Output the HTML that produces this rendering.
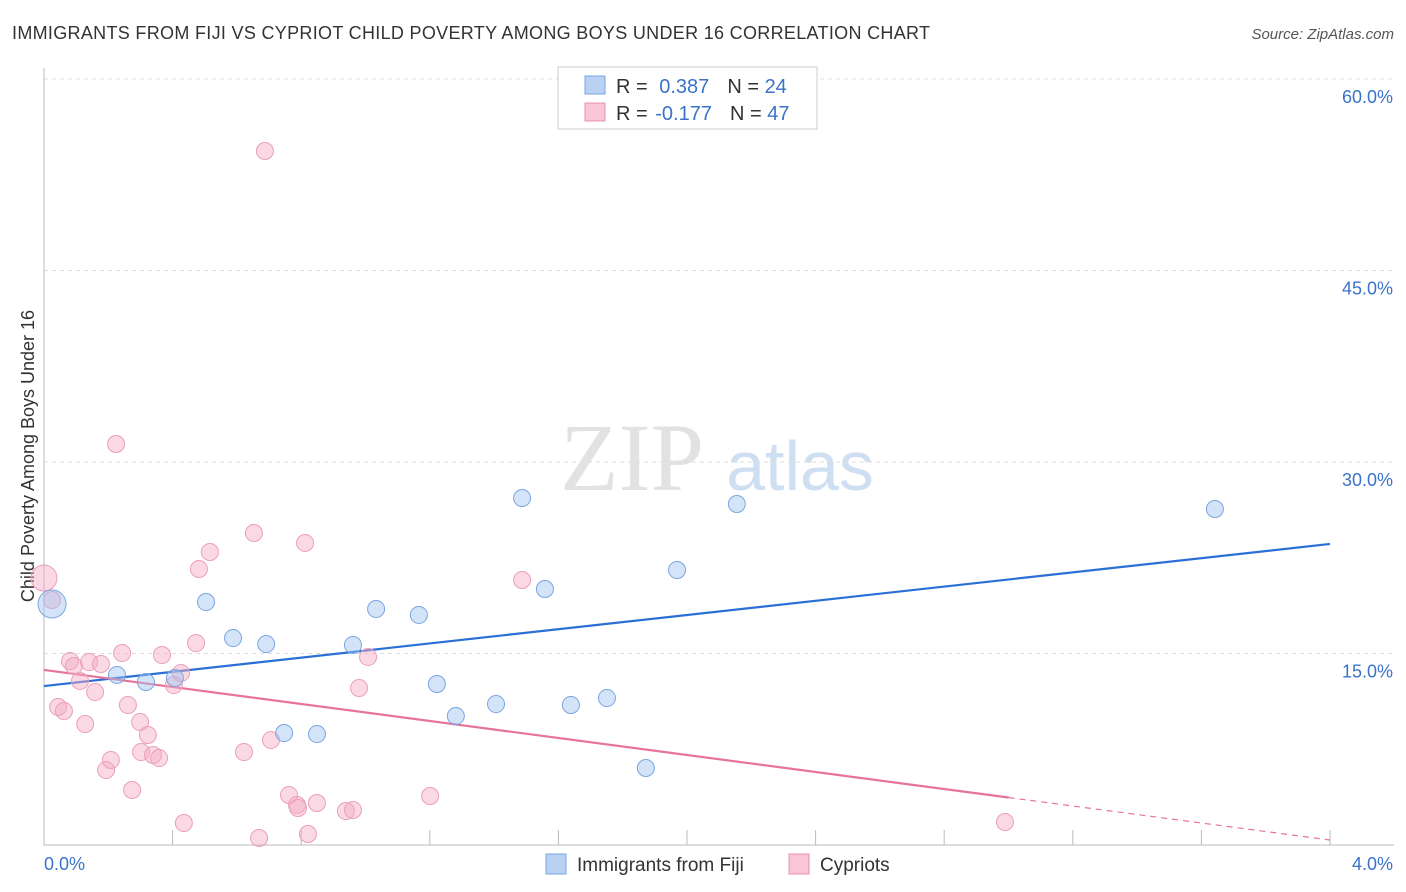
<!DOCTYPE html>
<html><head><meta charset="utf-8"><style>
body{margin:0;background:#fff;font-family:"Liberation Sans",sans-serif}
svg{display:block}
</style></head><body>
<svg id="chart" width="1406" height="892">
<text x="12" y="39" font-size="18" fill="#333" textLength="918">IMMIGRANTS FROM FIJI VS CYPRIOT CHILD POVERTY AMONG BOYS UNDER 16 CORRELATION CHART</text>
<text x="1394" y="39" font-size="15" fill="#555" font-style="italic" text-anchor="end">Source: ZipAtlas.com</text>
<text x="632" y="490" font-size="96" fill="#e2e2e2" font-family="Liberation Serif,serif" text-anchor="middle">ZIP</text>
<text x="800" y="490" font-size="70" fill="#cfdff2" text-anchor="middle">atlas</text>
<text transform="translate(34,456) rotate(-90)" font-size="18" fill="#333" text-anchor="middle">Child Poverty Among Boys Under 16</text>
<g id="grid"></g><g id="axes"></g><g id="lines"></g><g id="pts"></g>
<g>
<rect x="558" y="67" width="259" height="62" fill="#fff" stroke="#ccc"/>
<rect x="585" y="76" width="20" height="18" fill="#b9d2f4" stroke="#7aa5e0"/>
<rect x="585" y="103" width="20" height="18" fill="#f9c6d6" stroke="#e890ad"/>
<text x="616" y="93" font-size="20" fill="#333">R = <tspan fill="#3b73c9" dx="6">0.387</tspan><tspan dx="18" fill="#333">N = </tspan><tspan fill="#3b73c9">24</tspan></text>
<text x="616" y="120" font-size="20" fill="#333">R = <tspan fill="#3b73c9" dx="2">-0.177</tspan><tspan dx="18" fill="#333">N = </tspan><tspan fill="#3b73c9">47</tspan></text>
</g>
<g>
<rect x="546" y="854" width="20" height="20" fill="#b9d2f4" stroke="#7aa5e0"/>
<text x="577" y="871" font-size="19" fill="#333">Immigrants from Fiji</text>
<rect x="789" y="854" width="20" height="20" fill="#f9c6d6" stroke="#e890ad"/>
<text x="820" y="871" font-size="19" fill="#333">Cypriots</text>
</g>
</svg>
<script>
const fijiX=[0.025,0.227,0.317,0.407,0.504,0.588,0.691,0.747,0.849,0.961,1.033,1.166,1.222,1.281,1.406,1.487,1.558,1.639,1.751,1.872,1.969,2.155,3.642];
const fijiY=[18.88,13.32,12.77,13.08,19.03,16.21,15.74,8.77,8.69,15.67,18.49,18.02,12.61,10.10,11.04,27.18,20.05,10.97,11.51,6.03,21.54,26.71,26.32];
const cypX=[0,0.025,0.044,0.062,0.081,0.093,0.112,0.128,0.140,0.159,0.177,0.193,0.208,0.224,0.243,0.261,0.274,0.299,0.302,0.323,0.339,0.358,0.367,0.404,0.426,0.435,0.473,0.482,0.516,0.622,0.653,0.669,0.687,0.706,0.762,0.787,0.790,0.812,0.821,0.849,0.939,0.961,0.980,1.008,1.201,1.487,2.989];
const cypY=[20.91,19.19,10.81,10.50,14.41,14.02,12.85,9.48,14.33,11.98,14.18,5.87,6.66,31.41,15.04,10.97,4.31,9.63,7.28,8.62,7.05,6.81,14.88,12.53,13.47,1.72,15.82,21.62,22.95,7.28,24.44,0.55,54.36,8.22,3.92,3.13,2.90,23.66,0.86,3.29,2.66,2.74,12.30,14.73,3.84,20.76,1.80];
const fijiTrend=[12.45,23.58];
const cypTrend=[13.71,0.39];
const cypSolidEnd=3.0;
const yTicks=[15,30,45,60];
const xTickLabels=["0.0%","4.0%"];
const NS="http://www.w3.org/2000/svg";
const X=v=>44+v/4*1286, Y=v=>845-v/15*191.5;
function mk(p,t,a){const e=document.createElementNS(NS,t);for(const k in a)e.setAttribute(k,a[k]);document.getElementById(p).appendChild(e);return e;}
yTicks.forEach(t=>{
 const g=mk('grid','line',{x1:44,x2:1394,y1:Y(t),y2:Y(t),stroke:'#ddd','stroke-dasharray':'4,4'});
 
 
 const l=mk('grid','text',{x:1393,y:Y(t)+24,'font-size':18,fill:'#3b73c9','text-anchor':'end'});l.textContent=t.toFixed(1)+'%';
 
 
});
mk('axes','line',{x1:44,x2:44,y1:68,y2:845,stroke:'#bbb'});
mk('axes','line',{x1:44,x2:1394,y1:845,y2:845,stroke:'#bbb'});
for(let i=1;i<=10;i++)mk('axes','line',{x1:X(i*0.4),x2:X(i*0.4),y1:830,y2:845,stroke:'#bbb'});
const t0=mk('axes','text',{x:44,y:870,'font-size':18,fill:'#3b73c9'});t0.textContent=xTickLabels[0];


const t1=mk('axes','text',{x:1393,y:870,'font-size':18,fill:'#3b73c9','text-anchor':'end'});t1.textContent=xTickLabels[1];


cypX.forEach((x,i)=>{const c=mk('pts','circle',{cx:X(x),cy:Y(cypY[i]),r:i==0?13:8.5,fill:'rgba(245,170,195,0.45)',stroke:'#eb9fb8','stroke-width':1});
 
 });
fijiX.forEach((x,i)=>{const c=mk('pts','circle',{cx:X(x),cy:Y(fijiY[i]),r:i==0?14:8.5,fill:'rgba(160,195,240,0.45)',stroke:'#7aa5e0','stroke-width':1});
 
 });
const fl=mk('lines','line',{x1:X(0),y1:Y(fijiTrend[0]),x2:X(4),y2:Y(fijiTrend[1]),stroke:'#2a6fd6','stroke-width':2.2});


const cy=x=>cypTrend[0]+(cypTrend[1]-cypTrend[0])*x/4;
const pl=mk('lines','line',{x1:X(0),y1:Y(cy(0)),x2:X(cypSolidEnd),y2:Y(cy(cypSolidEnd)),stroke:'#e8739a','stroke-width':2.2});


const pd=mk('lines','line',{x1:X(cypSolidEnd),y1:Y(cy(cypSolidEnd)),x2:X(4),y2:Y(cy(4)),stroke:'#e8739a','stroke-width':1.2,'stroke-dasharray':'6,5'});


</script>
</body></html>
